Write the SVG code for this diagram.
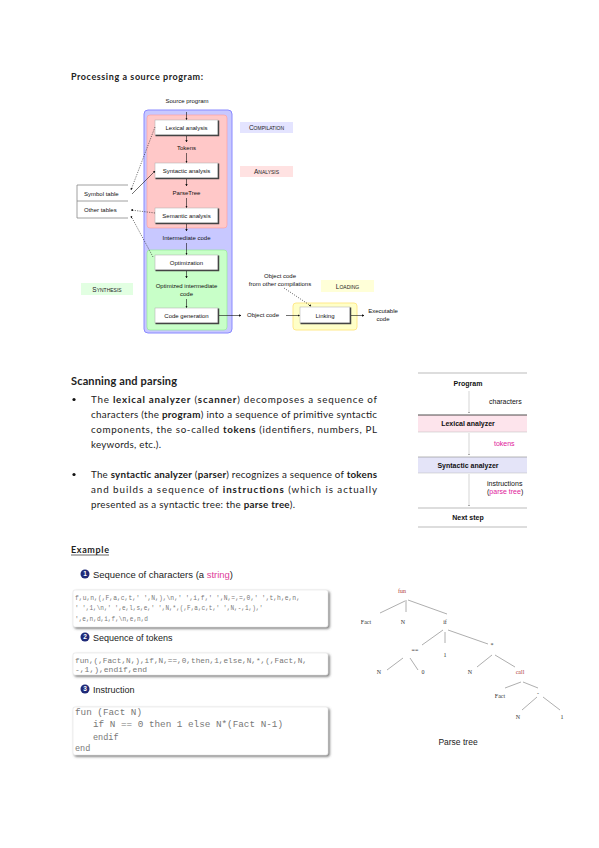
<svg xmlns="http://www.w3.org/2000/svg" width="599" height="848" viewBox="0 0 599 848">
<style>
.t{font-family:"Liberation Sans",Arial,sans-serif;font-size:6px;fill:#111}
.c{text-anchor:middle}
.sc{font-variant:small-caps;font-size:6.5px;fill:#222}
.box{fill:#fff;stroke:#aaa;stroke-width:0.5}
.sh{fill:none;stroke:#444;stroke-width:1.5}
.ar{stroke:#111;stroke-width:0.6;fill:none;marker-end:url(#ah)}
.dash{stroke:#222;stroke-width:0.6;fill:none;stroke-dasharray:1.2 1.2}
.body{font-family:Lato,"Open Sans",sans-serif;font-size:9.8px;fill:#222}
.b{font-weight:bold}
.rt{font-family:"Liberation Sans",Arial,sans-serif;font-size:7px;fill:#111}
.mag{fill:#e0209a}
.code{font-family:"Liberation Mono","DejaVu Sans Mono",monospace;fill:#777}
.tree{font-family:"Liberation Serif","Times New Roman",serif;font-size:6px;fill:#333}
.red{fill:#b03a3a}
.tl{stroke:#999;stroke-width:0.8}
.hd{font-family:"Liberation Sans",Arial,sans-serif;font-size:9px;fill:#222}
</style>
<defs>
<marker id="ah" viewBox="0 0 6 6" refX="5" refY="3" markerWidth="4" markerHeight="4" orient="auto"><path d="M0,0 L6,3 L0,6 z" fill="#111"/></marker>
<marker id="ahg" viewBox="0 0 6 6" refX="5" refY="3" markerWidth="3" markerHeight="3" orient="auto"><path d="M0,0 L6,3 L0,6 z" fill="#444"/></marker>
<filter id="ds" x="-5%" y="-20%" width="110%" height="150%"><feDropShadow dx="1.5" dy="1.5" stdDeviation="0.8" flood-color="#555" flood-opacity="0.8"/></filter>
</defs>
<rect width="599" height="848" fill="#fff"/>

<text x="71" y="80" font-family="Lato,'Open Sans',sans-serif" font-size="9" font-weight="bold" fill="#222" textLength="132" lengthAdjust="spacing">Processing a source program:</text>

<g id="regions">
<rect x="144" y="110" width="88" height="223" rx="4" fill="#c8c8ff" stroke="#8a8aff" stroke-width="1"/>
<rect x="147" y="115" width="80" height="113" rx="3" fill="#ffc8c8" stroke="#ff9a9a" stroke-width="0.6"/>
<rect x="147" y="250" width="80" height="80" rx="3" fill="#c8ffc8" stroke="#8ee88e" stroke-width="0.6"/>
<rect x="293" y="303" width="64" height="27" rx="3" fill="#ffffc8" stroke="#ffe98a" stroke-width="1"/>
</g>

<g id="labels">
<rect x="240" y="122" width="53" height="11" fill="#e4e4ff"/>
<text class="t sc c" x="266.5" y="130">Compilation</text>
<rect x="240" y="166" width="53" height="11" fill="#ffe2e2"/>
<text class="t sc c" x="266.5" y="174">Analysis</text>
<rect x="81" y="283" width="52" height="12" fill="#e2ffe2"/>
<text class="t sc c" x="107" y="291.5">Synthesis</text>
<rect x="321" y="280" width="53" height="12" fill="#ffffd8"/>
<text class="t sc c" x="347.5" y="288.5">Loading</text>
</g>

<g id="source"><text class="t c" x="187" y="103">Source program</text></g>
<g id="lexical"><rect class="box" x="155" y="120" width="63" height="15"/><path class="sh" d="M218.5,120.5 V135.5 H155.5"/><text class="t c" x="186.5" y="130">Lexical analysis</text></g>
<g id="tokens"><text class="t c" x="186.5" y="150">Tokens</text></g>
<g id="syntactic"><rect class="box" x="155" y="163" width="63" height="15"/><path class="sh" d="M218.5,163.5 V178.5 H155.5"/><text class="t c" x="186.5" y="173">Syntactic analysis</text></g>
<g id="parsetree"><text class="t c" x="186.5" y="195">ParseTree</text></g>
<g id="semantic"><rect class="box" x="155" y="208" width="63" height="15"/><path class="sh" d="M218.5,208.5 V223.5 H155.5"/><text class="t c" x="186.5" y="218">Semantic analysis</text></g>
<g id="intermediate"><text class="t c" x="186.5" y="240">Intermediate code</text></g>
<g id="optimization"><rect class="box" x="155" y="255" width="63" height="15"/><path class="sh" d="M218.5,255.5 V270.5 H155.5"/><text class="t c" x="186.5" y="265">Optimization</text></g>
<g id="optimized"><text class="t c" x="186.5" y="288">Optimized intermediate</text><text class="t c" x="186.5" y="296">code</text></g>
<g id="codegen"><rect class="box" x="155" y="308" width="63" height="15"/><path class="sh" d="M218.5,308.5 V323.5 H155.5"/><text class="t c" x="186.5" y="318">Code generation</text></g>
<g id="objectcode"><text class="t c" x="263" y="317">Object code</text></g>
<g id="othercomp"><text class="t c" x="280" y="278">Object code</text><text class="t c" x="280" y="286">from other compilations</text></g>
<g id="linking"><rect class="box" x="300" y="307" width="50" height="16"/><path class="sh" d="M350.5,307.5 V323.5 H300.5"/><text class="t c" x="325" y="317.5">Linking</text></g>
<g id="executable"><text class="t c" x="383" y="313">Executable</text><text class="t c" x="383" y="321">code</text></g>
<g id="tables">
<path d="M128,185 H77 V218 H128 M77,201 H128" fill="none" stroke="#888" stroke-width="0.8"/>
<text class="t" x="84" y="196">Symbol table</text>
<text class="t" x="84" y="212">Other tables</text>
</g>

<g id="connectors">
<line class="ar" x1="186.5" y1="112" x2="186.5" y2="119.5"/>
<line class="ar" x1="186.5" y1="136" x2="186.5" y2="142"/>
<line class="ar" x1="186.5" y1="153" x2="186.5" y2="162.5"/>
<line class="ar" x1="186.5" y1="179" x2="186.5" y2="186"/>
<line class="ar" x1="186.5" y1="198" x2="186.5" y2="207.5"/>
<line class="ar" x1="186.5" y1="224" x2="186.5" y2="231"/>
<line class="ar" x1="186.5" y1="243" x2="186.5" y2="254.5"/>
<line class="ar" x1="186.5" y1="271" x2="186.5" y2="278"/>
<line class="ar" x1="186.5" y1="299" x2="186.5" y2="307.5"/>
<line class="ar" x1="219" y1="315.5" x2="241" y2="315.5"/>
<line class="ar" x1="286" y1="315.5" x2="299.5" y2="315.5"/>
<line class="ar" x1="351" y1="315.5" x2="364" y2="315.5"/>
<line class="dash" x1="284" y1="288" x2="311" y2="306" marker-end="url(#ah)"/>
<line class="dash" x1="155" y1="127" x2="131" y2="190" marker-end="url(#ah)"/>
<line class="ar" x1="132" y1="194" x2="155" y2="171"/>
<line class="dash" x1="155" y1="213" x2="131" y2="210" marker-end="url(#ah)"/>
<line class="dash" x1="153" y1="257" x2="131" y2="216" marker-end="url(#ah)"/>
</g>

<text x="71" y="385" font-family="Lato,'Open Sans',sans-serif" font-size="11" font-weight="bold" fill="#222" textLength="106" lengthAdjust="spacing">Scanning and parsing</text>

<g id="bullets">
<circle cx="74" cy="399.5" r="1.6" fill="#111"/>
<circle cx="74" cy="474.5" r="1.6" fill="#111"/>
<text class="body" x="91" y="403" textLength="286" lengthAdjust="spacing">The <tspan class="b">lexical analyzer</tspan> (<tspan class="b">scanner</tspan>) decomposes a sequence of</text>
<text class="body" x="91" y="418" textLength="286" lengthAdjust="spacing">characters (the <tspan class="b">program</tspan>) into a sequence of primitive syntactic</text>
<text class="body" x="91" y="433" textLength="286" lengthAdjust="spacing">components, the so-called <tspan class="b">tokens</tspan> (identifiers, numbers, PL</text>
<text class="body" x="91" y="448" textLength="70" lengthAdjust="spacing">keywords, etc.).</text>
<text class="body" x="91" y="478" textLength="286" lengthAdjust="spacing">The <tspan class="b">syntactic analyzer</tspan> (<tspan class="b">parser</tspan>) recognizes a sequence of <tspan class="b">tokens</tspan></text>
<text class="body" x="91" y="493" textLength="286" lengthAdjust="spacing">and builds a sequence of <tspan class="b">instructions</tspan> (which is actually</text>
<text class="body" x="91" y="508" textLength="204" lengthAdjust="spacing">presented as a syntactic tree: the <tspan class="b">parse tree</tspan>).</text>
</g>

<g id="r-program">
<line x1="418" y1="373" x2="527" y2="373" stroke="#aaa" stroke-width="0.8"/>
<text class="rt b c" x="468" y="386">Program</text>
</g>
<g id="r-lexical">
<rect x="418" y="415" width="109" height="17" fill="#fde4ec"/>
<line x1="418" y1="415" x2="527" y2="415" stroke="#222" stroke-width="0.8"/>
<line x1="418" y1="432" x2="527" y2="432" stroke="#bbb" stroke-width="0.5"/>
<text class="rt b c" x="468" y="426">Lexical analyzer</text>
</g>
<g id="r-syntactic">
<rect x="418" y="457" width="109" height="16" fill="#e4e4f8"/>
<line x1="418" y1="457" x2="527" y2="457" stroke="#888" stroke-width="0.6"/>
<line x1="418" y1="473" x2="527" y2="473" stroke="#bbb" stroke-width="0.5"/>
<text class="rt b c" x="468" y="468">Syntactic analyzer</text>
</g>
<g id="r-next">
<line x1="418" y1="508" x2="527" y2="508" stroke="#aaa" stroke-width="0.8"/>
<text class="rt b c" x="468" y="520">Next step</text>
<line x1="418" y1="527" x2="527" y2="527" stroke="#aaa" stroke-width="0.8"/>
</g>
<g id="r-connectors">
<line x1="469" y1="391" x2="469" y2="413" stroke="#bbb" stroke-width="0.6" marker-end="url(#ahg)"/>
<line x1="469" y1="433" x2="469" y2="455" stroke="#bbb" stroke-width="0.6" marker-end="url(#ahg)"/>
<line x1="469" y1="474" x2="469" y2="506" stroke="#bbb" stroke-width="0.6" marker-end="url(#ahg)"/>
<text class="rt" x="489" y="404" font-size="6.5">characters</text>
<text class="rt mag" x="494" y="446" font-size="6.5">tokens</text>
<text class="rt" x="487" y="486" font-size="6.5">instructions</text>
<text class="rt" x="487" y="494" font-size="6.5">(<tspan class="mag">parse tree</tspan>)</text>
</g>

<text x="71" y="553" font-family="Lato,'Open Sans',sans-serif" font-size="9" font-weight="bold" fill="#222" textLength="38" lengthAdjust="spacing">Example</text>
<line x1="71" y1="555" x2="109" y2="555" stroke="#222" stroke-width="0.7"/>

<g id="step1">
<circle cx="85" cy="574" r="4.5" fill="#1f2a78"/>
<text x="85" y="576.3" font-family="Liberation Sans,sans-serif" font-size="6.5" font-weight="bold" fill="#fff" text-anchor="middle">1</text>
<text class="hd" x="93" y="577.5" textLength="140" lengthAdjust="spacingAndGlyphs">Sequence of characters (a <tspan fill="#e0409a">string</tspan>)</text>
<rect x="73" y="590" width="255" height="37" rx="2" fill="#fff" stroke="#ddd" stroke-width="0.5" filter="url(#ds)"/>
<text class="code" x="75" y="599.5" font-size="6.8" textLength="225" lengthAdjust="spacingAndGlyphs">f,u,n,(,F,a,c,t,' ',N,),\n,' ',i,f,' ',N,=,=,0,' ',t,h,e,n,</text>
<text class="code" x="75" y="610" font-size="6.8" textLength="188" lengthAdjust="spacingAndGlyphs">' ',1,\n,' ',e,l,s,e,' ',N,*,(,F,a,c,t,' ',N,-,1,),'</text>
<text class="code" x="75" y="621" font-size="6.8" textLength="73" lengthAdjust="spacingAndGlyphs">',e,n,d,i,f,\n,e,n,d</text>
</g>

<g id="step2">
<circle cx="85" cy="637" r="4.5" fill="#1f2a78"/>
<text x="85" y="639.3" font-family="Liberation Sans,sans-serif" font-size="6.5" font-weight="bold" fill="#fff" text-anchor="middle">2</text>
<text class="hd" x="93" y="640.5">Sequence of tokens</text>
<rect x="73" y="653" width="255" height="22" rx="2" fill="#fff" stroke="#ddd" stroke-width="0.5" filter="url(#ds)"/>
<text class="code" x="75" y="662.5" font-size="7" textLength="232" lengthAdjust="spacingAndGlyphs">fun,(,Fact,N,),if,N,==,0,then,1,else,N,*,(,Fact,N,</text>
<text class="code" x="75" y="672" font-size="7" textLength="72" lengthAdjust="spacingAndGlyphs">-,1,),endif,end</text>
</g>

<g id="step3">
<circle cx="85" cy="689" r="4.5" fill="#1f2a78"/>
<text x="85" y="691.3" font-family="Liberation Sans,sans-serif" font-size="6.5" font-weight="bold" fill="#fff" text-anchor="middle">3</text>
<text class="hd" x="93" y="692.5">Instruction</text>
<rect x="73" y="707" width="255" height="48" rx="2" fill="#fff" stroke="#ddd" stroke-width="0.5" filter="url(#ds)"/>
<text class="code" x="75" y="715" font-size="8.5" textLength="67" lengthAdjust="spacingAndGlyphs">fun (Fact N)</text>
<text class="code" x="93" y="727" font-size="8.5" textLength="190" lengthAdjust="spacingAndGlyphs">if N == 0 then 1 else N*(Fact N-1)</text>
<text class="code" x="93" y="740" font-size="8.5">endif</text>
<text class="code" x="75" y="751" font-size="8.5">end</text>
</g>

<g id="parsetree-edges">
<line class="tl" x1="405" y1="601" x2="380" y2="613"/>
<line class="tl" x1="406" y1="600" x2="406" y2="612"/>
<line class="tl" x1="408" y1="600" x2="447" y2="614"/>
<line class="tl" x1="443" y1="630" x2="422" y2="645"/>
<line class="tl" x1="445" y1="632" x2="445" y2="643"/>
<line class="tl" x1="448" y1="630" x2="488" y2="644"/>
<line class="tl" x1="403" y1="658" x2="387" y2="670"/>
<line class="tl" x1="410" y1="658" x2="418" y2="670"/>
<line class="tl" x1="492" y1="655" x2="477" y2="667"/>
<line class="tl" x1="495" y1="655" x2="515" y2="667"/>
<line class="tl" x1="521" y1="682" x2="505" y2="688"/>
<line class="tl" x1="523" y1="682" x2="538" y2="688"/>
<line class="tl" x1="537" y1="697" x2="522" y2="710"/>
<line class="tl" x1="543" y1="697" x2="560" y2="710"/>
</g>
<g id="parsetree-nodes">
<text class="tree c red" x="402" y="593">fun</text>
<text class="tree c" x="366" y="624">Fact</text>
<text class="tree c" x="403" y="624">N</text>
<text class="tree c" x="445" y="624">if</text>
<text class="tree c" x="415" y="652">==</text>
<text class="tree c" x="445" y="657">1</text>
<text class="tree c" x="492" y="647">*</text>
<text class="tree c" x="379" y="674">N</text>
<text class="tree c" x="423" y="674">0</text>
<text class="tree c" x="470" y="674">N</text>
<text class="tree c red" x="520" y="674">call</text>
<text class="tree c" x="500" y="698">Fact</text>
<text class="tree c" x="538" y="695">-</text>
<text class="tree c" x="518" y="719">N</text>
<text class="tree c" x="562" y="719">1</text>
<text x="458" y="745" font-family="'Liberation Sans',Arial,sans-serif" font-size="8.5" fill="#222" text-anchor="middle">Parse tree</text>
</g>
</svg>
